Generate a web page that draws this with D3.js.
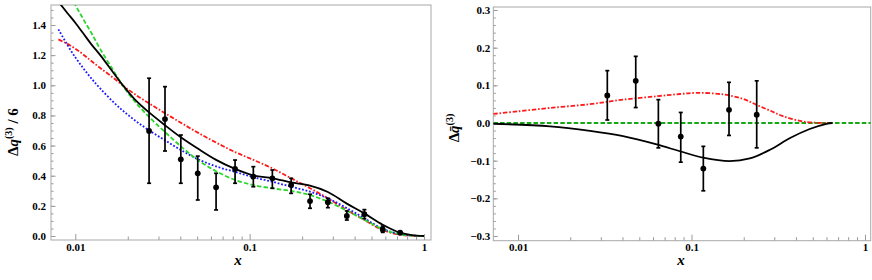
<!DOCTYPE html>
<html>
<head>
<meta charset="utf-8">
<script src="https://cdn.jsdelivr.net/npm/d3@7"></script>
<style>
  body { margin: 0; background: #fff; }
  svg { display: block; }
  .tick text { font-family: "Liberation Serif", "Times New Roman", serif; font-weight: bold; font-size: 11px; fill: #000; }
  .tick line { stroke: #999; }
</style>
</head>
<body>
<svg id="chart" width="872" height="280"></svg>
<script>
// left panel: Delta q^(3) / 6
var xLeft = [0.008, 0.009, 0.01, 0.0111, 0.0124, 0.0139, 0.0165, 0.0189, 0.022, 0.0265, 0.0327, 0.0403, 0.0504, 0.0642, 0.0825, 0.105, 0.135, 0.173, 0.222, 0.281, 0.361, 0.455, 0.58, 0.73, 0.85, 1.0];
var blackLeft = [1.555, 1.48, 1.415, 1.345, 1.27, 1.2, 1.085, 0.995, 0.905, 0.82, 0.735, 0.655, 0.58, 0.505, 0.445, 0.402, 0.383, 0.356, 0.334, 0.292, 0.215, 0.15, 0.075, 0.022, 0.006, 0];
var greenLeft = [1.75, 1.64, 1.533, 1.44, 1.345, 1.24, 1.1, 0.99, 0.891, 0.79, 0.69, 0.595, 0.505, 0.43, 0.372, 0.338, 0.316, 0.299, 0.272, 0.228, 0.168, 0.108, 0.045, 0.012, 0.003, 0];
var blueLeft = [1.371, 1.269, 1.186, 1.114, 1.044, 0.979, 0.89, 0.828, 0.767, 0.701, 0.635, 0.571, 0.51, 0.462, 0.425, 0.39, 0.36, 0.327, 0.294, 0.25, 0.185, 0.118, 0.047, 0.012, 0.003, 0];
var redLeft = [1.305, 1.275, 1.243, 1.205, 1.16, 1.115, 1.05, 0.995, 0.94, 0.88, 0.815, 0.752, 0.686, 0.62, 0.557, 0.505, 0.449, 0.383, 0.317, 0.25, 0.172, 0.106, 0.04, 0.008, 0.002, 0];

var ptsLeftX = [0.0265, 0.0327, 0.0403, 0.0504, 0.0642, 0.0825, 0.105, 0.135, 0.173, 0.222, 0.281, 0.361, 0.455, 0.58, 0.73];
var ptsLeftY = [0.697, 0.776, 0.509, 0.416, 0.323, 0.445, 0.394, 0.383, 0.338, 0.232, 0.224, 0.133, 0.145, 0.044, 0.022];
var ptsLeftLow = [0.35, 0.564, 0.35, 0.239, 0.173, 0.35, 0.327, 0.317, 0.283, 0.184, 0.188, 0.106, 0.115, 0.024, 0.015];
var ptsLeftHigh = [1.047, 0.991, 0.67, 0.53, 0.416, 0.504, 0.46, 0.438, 0.383, 0.277, 0.25, 0.166, 0.175, 0.066, 0.029];

// right panel: Delta qbar^(3)
var xRedRight = [0.0072, 0.01, 0.0153, 0.026, 0.0403, 0.063, 0.0857, 0.1073, 0.1517, 0.1982, 0.2376, 0.2835, 0.337, 0.4393, 0.5727, 0.62];
var redRight = [0.024, 0.031, 0.04, 0.05, 0.062, 0.071, 0.077, 0.08, 0.076, 0.064, 0.048, 0.033, 0.018, 0.004, 0, 0];
var xBlackRight = [0.0072, 0.0153, 0.026, 0.0403, 0.063, 0.0857, 0.1166, 0.1656, 0.2167, 0.2835, 0.37, 0.48, 0.6, 0.65];
var blackRight = [-0.002, -0.009, -0.021, -0.035, -0.057, -0.075, -0.092, -0.101, -0.094, -0.071, -0.04, -0.016, -0.002, 0];
var xGreenRight = [0.0072, 1.08];
var greenRight = [0, 0];

var ptsRightX = [0.0327, 0.0477, 0.0644, 0.0867, 0.117, 0.1645, 0.2376];
var ptsRightY = [0.073, 0.112, -0.002, -0.036, -0.121, 0.035, 0.022];
var ptsRightLow = [0.008, 0.041, -0.066, -0.104, -0.18, -0.033, -0.066];
var ptsRightHigh = [0.139, 0.177, 0.062, 0.028, -0.062, 0.108, 0.112];

var xTicks = [0.01, 0.1, 1];
var xTickLabels = ["0.01", "0.1", "1"];
var yTicksLeft = [0, 0.2, 0.4, 0.6, 0.8, 1.0, 1.2, 1.4];
var yTicksRight = [-0.3, -0.2, -0.1, 0, 0.1, 0.2, 0.3];

var svg = d3.select("#chart");
var font = "'Liberation Serif', 'Times New Roman', serif";

function zip(xs, ys) {
  return xs.map(function (d, i) { return [d, ys[i]]; });
}

function panel(o) {
  var x = d3.scaleLog().domain(o.xDomain).range([o.left, o.right]);
  var y = d3.scaleLinear().domain(o.yDomain).range([o.bottom, o.top]);
  var g = svg.append("g");

  g.append("clipPath").attr("id", o.id)
    .append("rect")
    .attr("x", o.left).attr("y", o.top)
    .attr("width", o.right - o.left).attr("height", o.bottom - o.top);

  // minor ticks
  var minorX = [];
  [0.01, 0.1].forEach(function (dec) {
    for (var k = 2; k <= 9; k++) minorX.push(dec * k);
  });
  var minorY = d3.range(Math.ceil(o.yDomain[0] / o.yMinor), Math.floor(o.yDomain[1] / o.yMinor) + 1)
    .map(function (k) { return +(k * o.yMinor).toFixed(4); });

  g.append("g")
    .attr("transform", "translate(0," + o.bottom + ")")
    .call(d3.axisBottom(x).tickValues(minorX).tickSize(-3.5).tickFormat(""))
    .call(function (a) { a.select(".domain").remove(); });
  g.append("g")
    .attr("transform", "translate(0," + o.bottom + ")")
    .call(d3.axisBottom(x).tickValues(xTicks).tickSize(-6).tickPadding(3)
      .tickFormat(function (d, i) { return xTickLabels[i]; }))
    .call(function (a) { a.select(".domain").remove(); });

  g.append("g")
    .attr("transform", "translate(" + o.left + ",0)")
    .call(d3.axisLeft(y).tickValues(minorY).tickSize(-2.5).tickFormat(""))
    .call(function (a) { a.select(".domain").remove(); });
  g.append("g")
    .attr("transform", "translate(" + o.left + ",0)")
    .call(d3.axisLeft(y).tickValues(o.yTicks).tickSize(-4.5).tickPadding(o.yPad)
      .tickFormat(function (d) { return d3.format(".1f")(d).replace("-", "\u2212"); }))
    .call(function (a) { a.select(".domain").remove(); });

  g.append("rect")
    .attr("x", o.left).attr("y", o.top)
    .attr("width", o.right - o.left).attr("height", o.bottom - o.top)
    .attr("fill", "none").attr("stroke", "#a8a8a8").attr("stroke-width", 1);

  var line = d3.line()
    .x(function (d) { return x(d[0]); })
    .y(function (d) { return y(d[1]); })
    .curve(d3.curveCatmullRom.alpha(0.5));

  var curves = g.append("g").attr("clip-path", "url(#" + o.id + ")");
  o.series.forEach(function (s) {
    curves.append("path")
      .attr("d", line(zip(s.x, s.y)))
      .attr("fill", "none")
      .attr("stroke", s.color)
      .attr("stroke-width", s.width || 1.8)
      .attr("stroke-dasharray", s.dash || null);
  });

  var pts = g.append("g").selectAll("g")
    .data(o.pts.x.map(function (d, i) {
      return { x: d, y: o.pts.y[i], lo: o.pts.lo[i], hi: o.pts.hi[i] };
    }))
    .enter().append("g")
    .attr("stroke", "#000").attr("stroke-width", 1.7);

  pts.append("line")
    .attr("x1", function (d) { return x(d.x); }).attr("x2", function (d) { return x(d.x); })
    .attr("y1", function (d) { return y(d.lo); }).attr("y2", function (d) { return y(d.hi); });
  pts.append("line")
    .attr("x1", function (d) { return x(d.x) - 2; }).attr("x2", function (d) { return x(d.x) + 2; })
    .attr("y1", function (d) { return y(d.lo); }).attr("y2", function (d) { return y(d.lo); });
  pts.append("line")
    .attr("x1", function (d) { return x(d.x) - 2; }).attr("x2", function (d) { return x(d.x) + 2; })
    .attr("y1", function (d) { return y(d.hi); }).attr("y2", function (d) { return y(d.hi); });
  pts.append("circle")
    .attr("cx", function (d) { return x(d.x); })
    .attr("cy", function (d) { return y(d.y); })
    .attr("r", 2.9)
    .attr("stroke", "none")
    .attr("fill", "#000");

  svg.append("text")
    .attr("x", o.xLabelPos[0]).attr("y", o.xLabelPos[1])
    .attr("text-anchor", "middle")
    .attr("font-family", font).attr("font-size", 15)
    .attr("font-weight", "bold").attr("font-style", "italic")
    .text("x");

  var yl = svg.append("text")
    .attr("transform", "translate(" + o.yLabelPos[0] + "," + o.yLabelPos[1] + ") rotate(-90)")
    .attr("text-anchor", "middle")
    .attr("font-family", font).attr("font-size", 15).attr("font-weight", "bold");
  yl.append("tspan").text("\u0394");
  yl.append("tspan").attr("font-style", "italic").text(o.qText);
  yl.append("tspan").attr("font-size", 10).attr("dy", -6).text("(3)");
  if (o.tail) yl.append("tspan").attr("dy", 6).text(o.tail);
}

panel({
  id: "clipL",
  left: 51, right: 431, top: 5, bottom: 240,
  xDomain: [0.007256, 1.097],
  yDomain: [-0.0265, 1.5328],
  yTicks: yTicksLeft, yMinor: 0.05, yPad: 5,
  series: [
    { x: xLeft, y: redLeft, color: "#ff1a1a", dash: "4.5,1.8,1.6,1.8" },
    { x: xLeft, y: blueLeft, color: "#1a1aff", dash: "1.8,1.8" },
    { x: xLeft, y: greenLeft, color: "#2bd62b", dash: "4.5,2.2" },
    { x: xLeft, y: blackLeft, color: "#000" }
  ],
  pts: { x: ptsLeftX, y: ptsLeftY, lo: ptsLeftLow, hi: ptsLeftHigh },
  xLabelPos: [238, 265],
  yLabelPos: [18, 132],
  qText: "q",
  tail: " / 6"
});

panel({
  id: "clipR",
  left: 493.3, right: 870.7, top: 7, bottom: 240.7,
  xDomain: [0.0072, 1.079],
  yDomain: [-0.3125, 0.308],
  yTicks: yTicksRight, yMinor: 0.02, yPad: 3,
  series: [
    { x: xGreenRight, y: greenRight, color: "#14a814", dash: "4.5,2.2" },
    { x: xRedRight, y: redRight, color: "#ff1a1a", dash: "4.5,1.8,1.6,1.8" },
    { x: xBlackRight, y: blackRight, color: "#000" }
  ],
  pts: { x: ptsRightX, y: ptsRightY, lo: ptsRightLow, hi: ptsRightHigh },
  xLabelPos: [681, 265],
  yLabelPos: [459, 128],
  qText: "q\u0304",
  tail: null
});
</script>
</body>
</html>
